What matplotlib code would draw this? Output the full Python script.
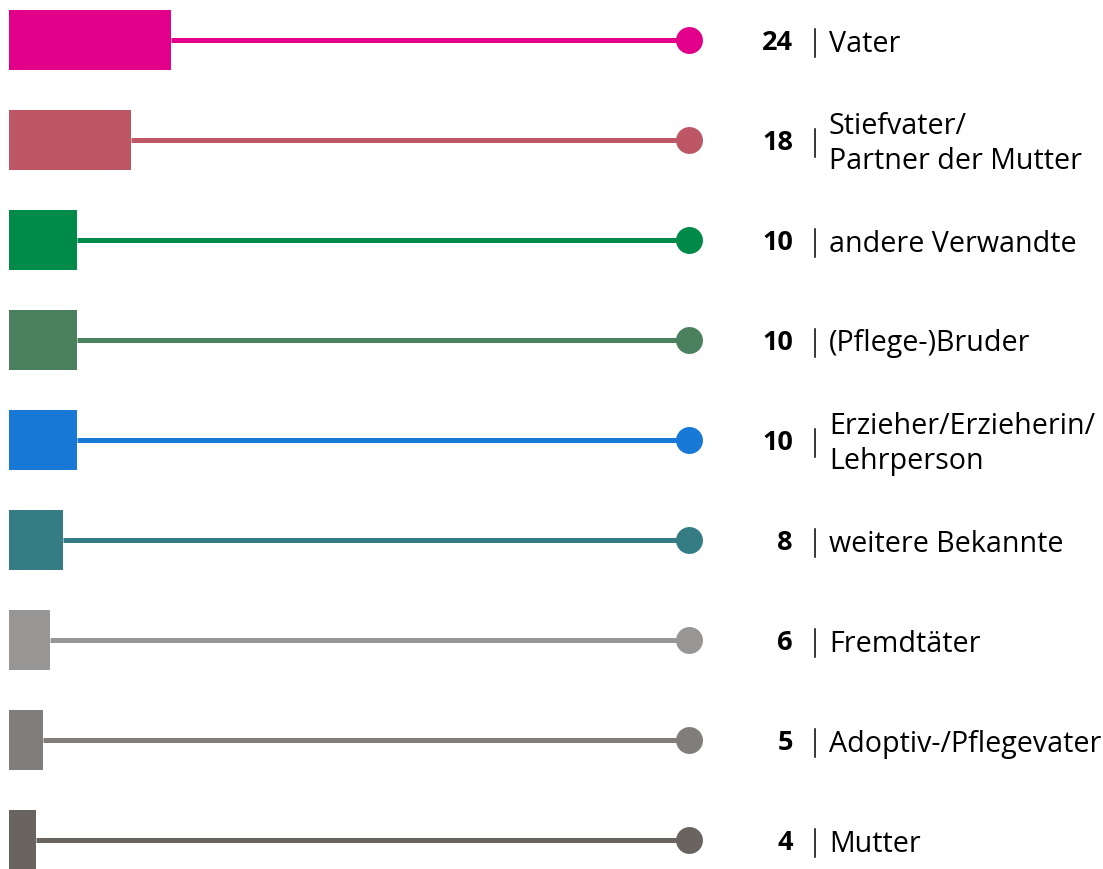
import matplotlib
matplotlib.use("Agg")
import matplotlib.pyplot as plt

labels = ["Vater", "Stiefvater/\nPartner der Mutter", "andere Verwandte", "(Pflege-)Bruder",
          "Erzieher/Erzieherin/\nLehrperson", "weitere Bekannte", "Fremdtäter",
          "Adoptiv-/Pflegevater", "Mutter"]
values = [24, 18, 10, 10, 10, 8, 6, 5, 4]
colors = ["#e2008a", "#bd5766", "#008a4a", "#4a805e", "#1778d6", "#367c85",
          "#979694", "#817d7a", "#69645f"]

W, H, DPI = 1103, 869, 100
px_per_unit = 6.75   # bar scale
x0 = 9               # left edge of bars in px

def px(v):
    # pixel column -> data x
    return (v - x0) / px_per_unit

fig = plt.figure(figsize=(W / DPI, H / DPI), dpi=DPI)
ax = fig.add_axes([0, 0, 1, 1])
ax.set_xlim(px(0), px(W))
ax.set_ylim((H - 40) / 100, -0.4)
ax.axis("off")

dot_x = px(689)
for i, (lab, val, c) in enumerate(zip(labels, values, colors)):
    ax.barh(i, val, height=0.6, left=0, color=c, zorder=2)
    ax.plot([val, dot_x], [i, i], color=c, lw=3.6, solid_capstyle="butt", zorder=1)
    ax.plot(dot_x, i, "o", color=c, ms=19.4, mec="none", zorder=3)
    ax.text(px(793), i + 0.03, str(val), ha="right", va="center", fontsize=19.5,
            fontweight="bold", family="Open Sans", color="black")
    ax.plot([px(815), px(815)], [i - 0.11, i + 0.17], color="black", lw=1.1)
    ax.text(px(829), i + 0.04, lab, ha="left", va="center", fontsize=20.6,
            family="Open Sans", color="black", linespacing=1.3)

fig.savefig("out.png", dpi=DPI)
